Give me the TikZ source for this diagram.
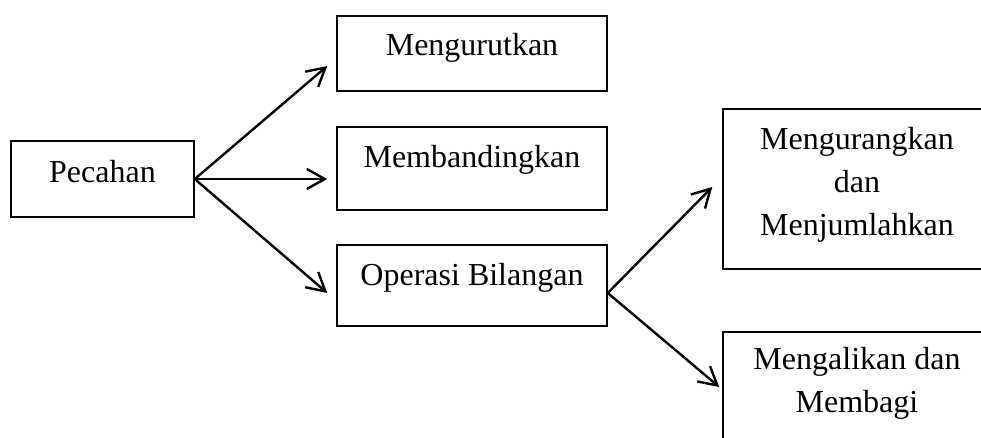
\documentclass[tikz,border=0pt]{standalone}
\usepackage{fontspec}
\setmainfont{Liberation Serif}
\usetikzlibrary{arrows.meta}
\begin{document}
\begin{tikzpicture}[x=1pt,y=-1pt,
  box/.style={draw, line width=1.5pt, minimum width=270pt, inner sep=0pt},
  lbl/.style={font=\fontsize{32}{43}\selectfont, anchor=base, inner sep=0pt, align=center},
  arr/.style={-{Straight Barb[length=18pt,width=20pt]}, line width=2.4pt}]
\clip (0,0) rectangle (981,437);
% boxes
\node[box, minimum width=183pt, minimum height=76pt] (pec) at (102.5,179) {};
\node[box, minimum height=75pt] (urut) at (472,53.5) {};
\node[box, minimum height=83pt] (band) at (472,168.5) {};
\node[box, minimum height=81pt] (opr) at (472,285.5) {};
\node[box, minimum height=160pt] (kur) at (858,189) {};
\node[box, minimum height=160pt] (kali) at (858,412) {};
% texts
\node[lbl] (tpec) at (102.5,182) {Pecahan};
\node[lbl] (turut) at (472,55) {Mengurutkan};
\node[lbl] (tband) at (472,167) {Membandingkan};
\node[lbl] (topr) at (472,285) {Operasi Bilangan};
\node[lbl] (tkur) at (857,235) {Mengurangkan\\dan\\Menjumlahkan};
\node[lbl] (tkali) at (857,412) {Mengalikan dan\\Membagi};
% connectors
\coordinate (oprout) at ([yshift=-7.5pt]opr.east);
\draw[arr] (pec.east) -- ([xshift=-9pt,yshift=-12.5pt]urut.west);
\draw[arr] (pec.east) -- ([xshift=-9pt]band.west |- pec.east);
\draw[arr] (pec.east) -- ([xshift=-9pt,yshift=-7.5pt]opr.west);
\draw[arr] (oprout) -- ([xshift=-10pt,yshift=2pt]kur.west);
\draw[arr] (oprout) -- ([xshift=-3pt,yshift=25pt]kali.west);
\end{tikzpicture}
\end{document}
